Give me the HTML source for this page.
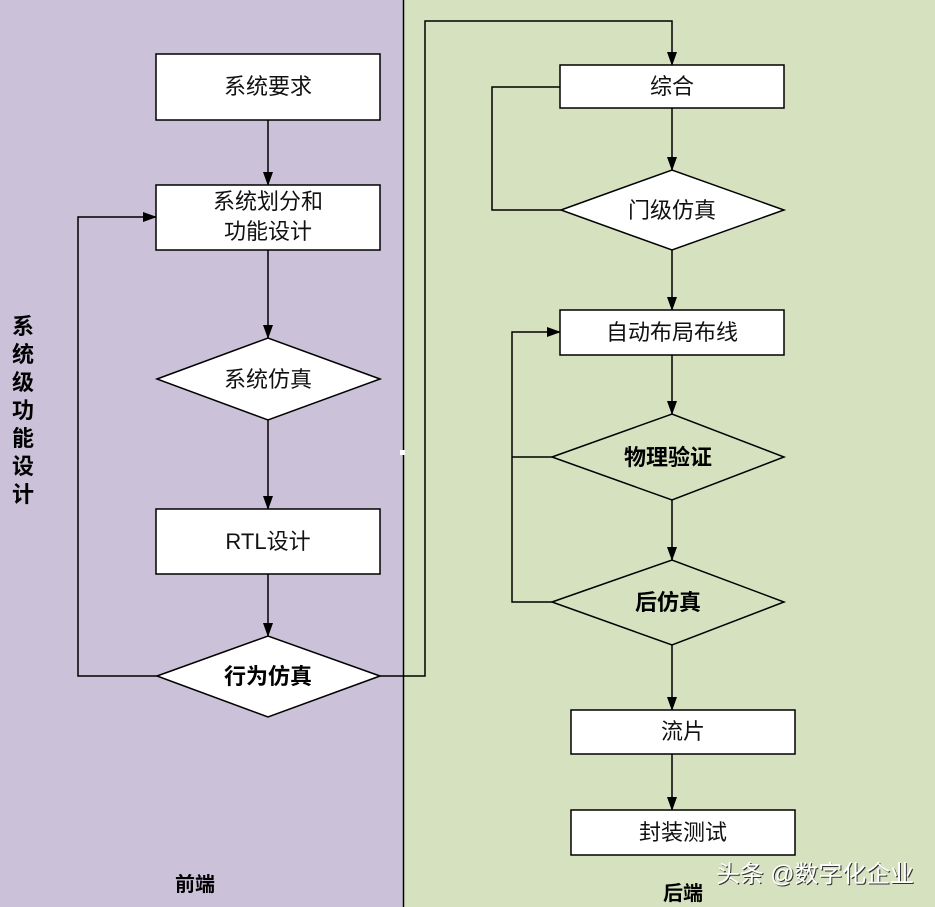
<!DOCTYPE html>
<html><head><meta charset="utf-8"><style>
html,body{margin:0;padding:0;}
svg{display:block;}
.t{font-family:"Liberation Sans","Noto Sans CJK SC",sans-serif;font-size:22px;fill:#111;font-weight:normal;}
.b{font-family:"Liberation Sans","Noto Sans CJK SC",sans-serif;font-size:22px;fill:#000;font-weight:bold;}
</style></head><body>
<svg width="935" height="907" viewBox="0 0 935 907" xmlns="http://www.w3.org/2000/svg">
<defs><marker id="a" markerWidth="14" markerHeight="10" refX="13" refY="5" orient="auto" markerUnits="userSpaceOnUse"><path d="M0,0 L14,5 L0,10 z" fill="#000"/></marker></defs>
<rect x="0" y="0" width="403" height="907" fill="#cbc2da"/>
<rect x="403" y="0" width="532" height="907" fill="#d6e2bf"/>
<line x1="403.5" y1="0" x2="403.5" y2="907" stroke="#000" stroke-width="1.5"/>
<g stroke="#000" stroke-width="1.5" fill="none">
<line x1="268" y1="120" x2="268" y2="185" marker-end="url(#a)"/>
<line x1="268" y1="250" x2="268" y2="338" marker-end="url(#a)"/>
<line x1="268" y1="420" x2="268" y2="509" marker-end="url(#a)"/>
<line x1="268" y1="574" x2="268" y2="636" marker-end="url(#a)"/>
<polyline points="157,676 78,676 78,217 156,217" marker-end="url(#a)"/>
<polyline points="380,676 425,676 425,21 672,21 672,65" marker-end="url(#a)"/>
<line x1="672" y1="108" x2="672" y2="170" marker-end="url(#a)"/>
<polyline points="561,210 492,210 492,87 560,87"/>
<line x1="672" y1="250" x2="672" y2="310" marker-end="url(#a)"/>
<line x1="672" y1="355" x2="672" y2="414" marker-end="url(#a)"/>
<line x1="672" y1="500" x2="672" y2="560" marker-end="url(#a)"/>
<line x1="672" y1="645" x2="672" y2="710" marker-end="url(#a)"/>
<line x1="672" y1="754" x2="672" y2="810" marker-end="url(#a)"/>
<polyline points="552,602 512,602 512,332 560,332" marker-end="url(#a)"/>
<line x1="552" y1="457" x2="512" y2="457"/>
</g>
<g stroke="#000" stroke-width="1.5" fill="#fff">
<rect x="156" y="54" width="224" height="66"/>
<rect x="156" y="185" width="224" height="65"/>
<polygon points="157,379 268,338 380,379 268,420"/>
<rect x="156" y="509" width="224" height="65"/>
<polygon points="157,676 268,636 380,676 268,717"/>
<rect x="560" y="65" width="224" height="43"/>
<polygon points="561,210 672,170 784,210 672,250"/>
<rect x="560" y="310" width="224" height="45"/>
<rect x="571" y="710" width="224" height="44"/>
<rect x="571" y="810" width="224" height="45"/>
</g>
<g stroke="#000" stroke-width="1.5" fill="none">
<polygon points="552,457 672,414 784,457 672,500"/>
<polygon points="552,602 672,560 784,602 672,645"/>
</g>
<rect x="400" y="450" width="5" height="5" fill="#fff"/>
<g text-anchor="middle">
<text class="t" x="268" y="94">系统要求</text>
<text class="t" x="268" y="209">系统划分和</text>
<text class="t" x="268" y="239">功能设计</text>
<text class="t" x="268" y="387">系统仿真</text>
<text class="t" x="268" y="549">RTL设计</text>
<text class="b" x="268" y="684">行为仿真</text>
<text class="t" x="672" y="94">综合</text>
<text class="t" x="672" y="218">门级仿真</text>
<text class="t" x="672" y="340">自动布局布线</text>
<text class="b" x="668" y="465">物理验证</text>
<text class="b" x="668" y="610">后仿真</text>
<text class="t" x="683" y="739">流片</text>
<text class="t" x="683" y="840">封装测试</text>
<text class="b" x="195" y="891" style="font-size:20px">前端</text>
<text class="b" x="683" y="900" style="font-size:20px">后端</text>
</g>
<g class="b" style="font-size:22px" text-anchor="middle">
<text x="23" y="334">系</text><text x="23" y="362">统</text><text x="23" y="390">级</text><text x="23" y="418">功</text><text x="23" y="446">能</text><text x="23" y="474">设</text><text x="23" y="502">计</text>
</g>
<text x="717" y="883" textLength="198" style="font-family:'Liberation Sans','Noto Sans CJK SC',sans-serif;font-size:24px;fill:#333">头条 @数字化企业</text>
<text x="716" y="882" textLength="198" style="font-family:'Liberation Sans','Noto Sans CJK SC',sans-serif;font-size:24px;fill:#fff">头条 @数字化企业</text>
</svg>
</body></html>
